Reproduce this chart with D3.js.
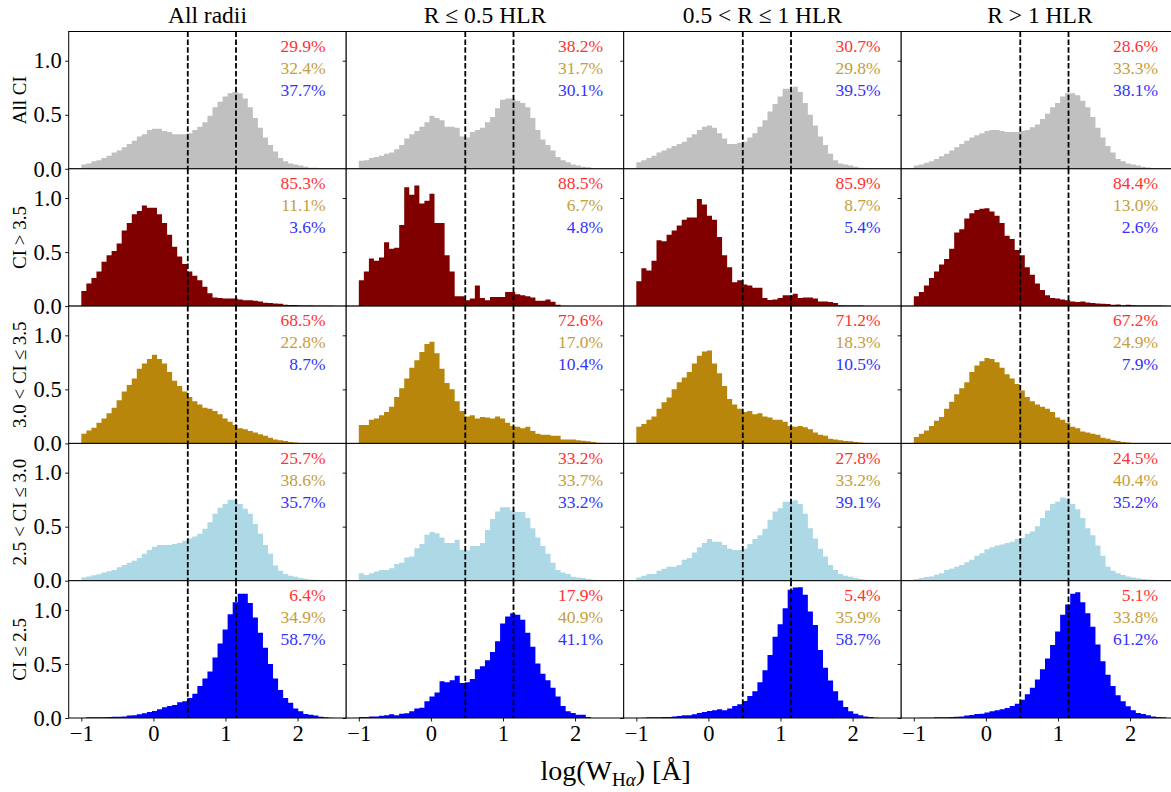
<!DOCTYPE html>
<html><head><meta charset="utf-8">
<script src="https://cdn.jsdelivr.net/npm/d3@7"></script>
<style>
body{margin:0;background:#fff}
svg{display:block}
text{font-family:"Liberation Serif","DejaVu Serif",serif;fill:#000}
</style>
</head><body>
<svg id="chart" width="1171" height="792"></svg>
<script>
// ---------------- data ----------------
const colTitles = ["All radii", "R ≤ 0.5 HLR", "0.5 < R ≤ 1 HLR", "R > 1 HLR"];
const rowLabels = ["All CI", "CI > 3.5", "3.0 < CI ≤ 3.5", "2.5 < CI ≤ 3.0", "CI ≤ 2.5"];
const rowColors = ["#c0c0c0", "#800000", "#b8860b", "#add8e6", "#0000ff"];
const pctColors = ["#ff3333", "#c69e3c", "#3333ff"];
const binStart = -1.0, binWidth = 0.07;           // 50 bins over [-1, 2.5]
const thresholds = [Math.log10(3), Math.log10(14)];
const xTicks = [-1, 0, 1, 2];
const yTicks = [0, 0.5, 1.0];

// histogram densities, one array per panel (row = CI class, col = radial bin)
const allCI_allR   = [0.04,0.05,0.07,0.08,0.10,0.12,0.15,0.17,0.20,0.23,0.26,0.30,0.32,0.36,0.37,0.37,0.35,0.34,0.32,0.32,0.32,0.33,0.36,0.39,0.43,0.49,0.57,0.62,0.67,0.70,0.71,0.70,0.65,0.57,0.47,0.38,0.29,0.22,0.16,0.10,0.07,0.05,0.04,0.03,0.02,0.01,0.01,0.005,0,0];
const allCI_inner  = [0.075,0.08,0.10,0.11,0.12,0.14,0.15,0.18,0.22,0.28,0.32,0.35,0.39,0.43,0.49,0.47,0.45,0.39,0.39,0.38,0.30,0.29,0.34,0.36,0.38,0.43,0.48,0.56,0.64,0.65,0.65,0.63,0.61,0.57,0.47,0.36,0.27,0.22,0.17,0.11,0.08,0.06,0.04,0.03,0.02,0.015,0.006,0,0,0];
const allCI_mid    = [0.06,0.08,0.10,0.12,0.15,0.17,0.19,0.21,0.23,0.25,0.29,0.32,0.36,0.39,0.40,0.38,0.33,0.28,0.23,0.23,0.24,0.25,0.29,0.33,0.39,0.45,0.53,0.60,0.67,0.74,0.74,0.76,0.71,0.61,0.50,0.40,0.30,0.22,0.14,0.08,0.05,0.04,0.03,0.02,0.01,0.006,0.004,0,0,0];
const allCI_outer  = [0.03,0.04,0.055,0.07,0.09,0.115,0.14,0.17,0.20,0.23,0.26,0.29,0.31,0.33,0.35,0.36,0.36,0.35,0.34,0.34,0.34,0.35,0.36,0.385,0.41,0.46,0.51,0.57,0.61,0.67,0.70,0.70,0.68,0.63,0.57,0.48,0.38,0.29,0.21,0.15,0.09,0.07,0.05,0.04,0.03,0.02,0.012,0.006,0.003,0.003];

const ciHigh_allR  = [0.14,0.21,0.26,0.32,0.41,0.47,0.51,0.58,0.70,0.77,0.85,0.88,0.93,0.91,0.91,0.85,0.77,0.66,0.55,0.46,0.39,0.32,0.28,0.24,0.18,0.12,0.08,0.075,0.07,0.07,0.07,0.06,0.053,0.053,0.05,0.043,0.03,0.028,0.025,0.022,0.012,0.01,0.01,0.006,0.006,0.006,0.003,0.003,0.003,0.003];
const ciHigh_inner = [0.24,0.32,0.44,0.42,0.45,0.59,0.53,0.54,0.75,1.10,1.03,1.115,0.95,0.975,1.04,0.77,0.77,0.47,0.32,0.09,0.09,0.053,0.07,0.19,0.075,0.053,0.085,0.085,0.085,0.13,0.13,0.11,0.10,0.09,0.08,0.05,0.05,0.06,0.04,0.012,0,0,0,0,0,0,0,0,0,0];
const ciHigh_mid   = [0.23,0.35,0.33,0.42,0.61,0.60,0.66,0.70,0.745,0.80,0.82,0.82,0.99,0.94,0.835,0.80,0.64,0.47,0.36,0.22,0.24,0.20,0.19,0.17,0.17,0.075,0.056,0.06,0.075,0.10,0.10,0.115,0.075,0.08,0.08,0.07,0.043,0.043,0.037,0.028,0.009,0.006,0.006,0.006,0.006,0,0,0,0,0];
const ciHigh_outer = [0.09,0.13,0.19,0.26,0.32,0.385,0.435,0.53,0.68,0.71,0.81,0.86,0.89,0.90,0.905,0.875,0.835,0.77,0.65,0.62,0.52,0.47,0.36,0.29,0.21,0.15,0.10,0.075,0.07,0.06,0.053,0.043,0.037,0.043,0.034,0.028,0.025,0.022,0.02,0.012,0.015,0.009,0.012,0.009,0.006,0.006,0.006,0.006,0.006,0.003];

const ciMidHi_allR  = [0.09,0.12,0.145,0.19,0.23,0.28,0.33,0.40,0.48,0.54,0.60,0.69,0.74,0.78,0.82,0.78,0.74,0.66,0.58,0.53,0.48,0.43,0.39,0.36,0.33,0.32,0.30,0.27,0.23,0.20,0.17,0.14,0.13,0.115,0.10,0.085,0.07,0.053,0.037,0.028,0.022,0.012,0.009,0.003,0,0,0,0,0,0];
const ciMidHi_inner = [0.17,0.17,0.22,0.23,0.26,0.29,0.34,0.43,0.51,0.60,0.70,0.77,0.845,0.92,0.94,0.835,0.69,0.56,0.50,0.39,0.30,0.25,0.26,0.23,0.245,0.24,0.23,0.25,0.23,0.19,0.16,0.155,0.14,0.155,0.115,0.09,0.08,0.08,0.07,0.07,0.037,0.037,0.037,0.028,0.025,0.019,0.012,0.006,0,0];
const ciMidHi_mid   = [0.155,0.18,0.22,0.25,0.32,0.38,0.425,0.50,0.565,0.61,0.66,0.74,0.81,0.85,0.86,0.74,0.65,0.53,0.41,0.36,0.32,0.29,0.30,0.27,0.28,0.25,0.24,0.22,0.22,0.20,0.16,0.155,0.16,0.15,0.13,0.10,0.08,0.07,0.043,0.037,0.03,0.022,0.019,0.012,0.009,0,0,0,0,0];
const ciMidHi_outer = [0.06,0.09,0.12,0.16,0.21,0.245,0.32,0.385,0.455,0.51,0.565,0.66,0.72,0.76,0.79,0.78,0.75,0.70,0.64,0.60,0.55,0.49,0.43,0.39,0.36,0.34,0.32,0.29,0.24,0.22,0.19,0.155,0.14,0.11,0.10,0.09,0.08,0.053,0.043,0.028,0.022,0.012,0.009,0,0,0,0,0,0,0];

const ciMidLo_allR  = [0.03,0.04,0.05,0.06,0.077,0.087,0.10,0.125,0.145,0.165,0.185,0.21,0.25,0.285,0.315,0.33,0.33,0.33,0.34,0.35,0.37,0.39,0.41,0.435,0.48,0.54,0.62,0.675,0.71,0.75,0.75,0.71,0.665,0.62,0.525,0.435,0.33,0.25,0.14,0.093,0.062,0.046,0.037,0.025,0.019,0.012,0.009,0.006,0,0];
const ciMidLo_inner = [0.07,0.053,0.07,0.085,0.10,0.10,0.115,0.155,0.165,0.215,0.225,0.30,0.34,0.425,0.45,0.44,0.40,0.35,0.35,0.38,0.285,0.28,0.32,0.32,0.35,0.47,0.57,0.64,0.68,0.68,0.65,0.635,0.635,0.58,0.485,0.40,0.32,0.25,0.165,0.10,0.077,0.062,0.037,0.03,0.025,0.015,0.009,0,0,0];
const ciMidLo_mid   = [0.03,0.046,0.062,0.062,0.093,0.11,0.13,0.13,0.145,0.195,0.21,0.26,0.31,0.35,0.385,0.36,0.36,0.33,0.295,0.285,0.285,0.295,0.34,0.385,0.42,0.48,0.565,0.64,0.67,0.73,0.73,0.745,0.71,0.62,0.485,0.39,0.295,0.225,0.145,0.10,0.062,0.046,0.037,0.025,0.015,0.009,0.006,0,0,0];
const ciMidLo_outer = [0.015,0.025,0.034,0.04,0.056,0.068,0.10,0.11,0.13,0.145,0.17,0.195,0.23,0.255,0.29,0.31,0.325,0.335,0.35,0.36,0.385,0.395,0.435,0.455,0.505,0.58,0.65,0.71,0.73,0.77,0.76,0.71,0.66,0.58,0.485,0.42,0.325,0.23,0.13,0.093,0.068,0.053,0.04,0.03,0.022,0.015,0.012,0.009,0.006,0.006];

const ciLow_allR  = [0,0.006,0.006,0.006,0.006,0.01,0.012,0.012,0.015,0.022,0.025,0.034,0.043,0.056,0.065,0.08,0.10,0.11,0.12,0.145,0.155,0.185,0.225,0.295,0.365,0.43,0.56,0.69,0.82,0.96,1.07,1.15,1.15,1.065,0.93,0.79,0.65,0.50,0.365,0.26,0.185,0.14,0.087,0.062,0.037,0.03,0.022,0.012,0.006,0.003];
const ciLow_inner = [0.01,0.01,0.015,0.015,0.02,0.025,0.034,0.025,0.04,0.043,0.062,0.087,0.096,0.155,0.20,0.235,0.34,0.33,0.35,0.39,0.325,0.33,0.36,0.45,0.48,0.535,0.61,0.71,0.875,0.94,0.97,0.955,0.91,0.79,0.66,0.505,0.41,0.35,0.28,0.20,0.11,0.062,0.046,0.03,0.03,0.01,0,0,0,0];
const ciLow_mid   = [0,0.003,0.006,0.006,0.006,0.009,0.009,0.015,0.019,0.025,0.025,0.034,0.046,0.056,0.065,0.071,0.08,0.071,0.087,0.11,0.127,0.158,0.204,0.248,0.33,0.443,0.582,0.752,0.867,1.015,1.186,1.207,1.21,1.14,0.985,0.86,0.63,0.465,0.347,0.248,0.161,0.102,0.062,0.04,0.025,0.015,0.009,0.003,0,0];
const ciLow_outer = [0,0.003,0.003,0.003,0.006,0.006,0.006,0.009,0.012,0.015,0.022,0.028,0.037,0.04,0.05,0.062,0.071,0.08,0.093,0.11,0.133,0.17,0.22,0.28,0.356,0.45,0.55,0.675,0.8,0.955,1.05,1.15,1.164,1.07,0.97,0.845,0.68,0.526,0.40,0.297,0.21,0.155,0.108,0.071,0.046,0.037,0.025,0.015,0.009,0.006];

// percentages [red, gold, blue] per panel
const pctAllCI  = [[29.9,32.4,37.7],[38.2,31.7,30.1],[30.7,29.8,39.5],[28.6,33.3,38.1]];
const pctHigh   = [[85.3,11.1,3.6],[88.5,6.7,4.8],[85.9,8.7,5.4],[84.4,13.0,2.6]];
const pctMidHi  = [[68.5,22.8,8.7],[72.6,17.0,10.4],[71.2,18.3,10.5],[67.2,24.9,7.9]];
const pctMidLo  = [[25.7,38.6,35.7],[33.2,33.7,33.2],[27.8,33.2,39.1],[24.5,40.4,35.2]];
const pctLow    = [[6.4,34.9,58.7],[17.9,40.9,41.1],[5.4,35.9,58.7],[5.1,33.8,61.2]];

const hists = [
  [allCI_allR, allCI_inner, allCI_mid, allCI_outer],
  [ciHigh_allR, ciHigh_inner, ciHigh_mid, ciHigh_outer],
  [ciMidHi_allR, ciMidHi_inner, ciMidHi_mid, ciMidHi_outer],
  [ciMidLo_allR, ciMidLo_inner, ciMidLo_mid, ciMidLo_outer],
  [ciLow_allR, ciLow_inner, ciLow_mid, ciLow_outer]
];
const pcts = [pctAllCI, pctHigh, pctMidHi, pctMidLo, pctLow];

// ---------------- layout ----------------
const leftM = 68.7, topM = 31.5, colW = 277.5, rowH = 137.3;
const nRows = 5, nCols = 4;
const nBins = allCI_allR.length;
const binEdgeMax = binStart + nBins * binWidth;
const xPad = 0.05 * (binEdgeMax - binStart);
const yMax = 1.05 * d3.max(hists.flat(2));

const x = d3.scaleLinear().domain([binStart - xPad, binEdgeMax + xPad]).range([0, colW]);
const y = d3.scaleLinear().domain([0, yMax]).range([rowH, 0]);

// step-shaped histogram outline (bars without seams)
const histArea = d3.area()
  .curve(d3.curveStepAfter)
  .x(d => x(d.x0))
  .y0(y(0))
  .y1(d => y(d.v));

const svg = d3.select("#chart");
svg.append("rect").attr("width", 1171).attr("height", 792).attr("fill", "#fff");

const minus = d => (d < 0 ? "\u2212" + Math.abs(d) : String(d));

for (let r = 0; r < nRows; r++) {
  for (let c = 0; c < nCols; c++) {
    const g = svg.append("g").attr("transform", `translate(${leftM + c * colW},${topM + r * rowH})`);
    g.append("rect").attr("width", colW).attr("height", rowH).attr("fill", "#fff");

    const vals = hists[r][c];
    const pts = vals.map((v, i) => ({x0: binStart + i * binWidth, v}));
    pts.push({x0: binEdgeMax, v: 0});
    g.append("path").datum(pts).attr("d", histArea).attr("fill", rowColors[r]);

    g.selectAll("line.thr").data(thresholds).join("line").attr("class", "thr")
      .attr("x1", d => x(d)).attr("x2", d => x(d))
      .attr("y1", 0).attr("y2", rowH)
      .attr("stroke", "#000").attr("stroke-width", 1.8).attr("stroke-dasharray", "5.5,2.4");

    g.append("rect").attr("width", colW).attr("height", rowH)
      .attr("fill", "none").attr("stroke", "#000").attr("stroke-width", 1);

    // y axis
    const ya = g.append("g").call(
      d3.axisLeft(y).tickValues(yTicks).tickSize(3.5).tickPadding(3.5)
        .tickFormat(c === 0 ? d3.format(".1f") : () => ""));
    ya.select(".domain").remove();
    ya.selectAll("line").attr("stroke", "#000").attr("stroke-width", 0.9);
    ya.selectAll("text").attr("font-size", 22.5);

    // x axis (bottom row only)
    if (r === nRows - 1) {
      const xa = g.append("g").attr("transform", `translate(0,${rowH})`).call(
        d3.axisBottom(x).tickValues(xTicks).tickSize(3.5).tickPadding(4).tickFormat(minus));
      xa.select(".domain").remove();
      xa.selectAll("line").attr("stroke", "#000").attr("stroke-width", 0.9);
      xa.selectAll("text").attr("font-size", 22.5);
    }

    // percentages
    g.selectAll("text.pct").data(pcts[r][c]).join("text").attr("class", "pct")
      .attr("x", 257).attr("y", (d, i) => 14 + i * 22)
      .attr("dy", "0.35em")
      .attr("text-anchor", "end")
      .attr("font-size", 17.5)
      .style("fill", (d, i) => pctColors[i])
      .text(d => d.toFixed(1) + "%");
  }
}

// column titles
svg.selectAll("text.title").data(colTitles).join("text").attr("class", "title")
  .attr("x", (d, i) => leftM + (i + 0.5) * colW).attr("y", 15)
  .attr("dy", "0.35em").attr("text-anchor", "middle").attr("font-size", 23.5)
  .text(d => d);

// row labels
svg.selectAll("text.rowlab").data(rowLabels).join("text").attr("class", "rowlab")
  .attr("transform", (d, i) => `translate(19,${topM + (i + 0.5) * rowH}) rotate(-90)`)
  .attr("dy", "0.35em").attr("text-anchor", "middle").attr("font-size", 19)
  .text(d => d);

// x label
const xl = svg.append("text").attr("x", leftM + 2 * colW - 8).attr("y", 780)
  .attr("text-anchor", "middle").attr("font-size", 28);
xl.append("tspan").text("log(W");
xl.append("tspan").attr("font-size", 19).attr("dy", "0.3em").text("H");
xl.append("tspan").attr("font-size", 19).attr("font-style", "italic").text("α");
xl.append("tspan").attr("dy", "-0.2em").text(") [Å]");
</script>
</body></html>
